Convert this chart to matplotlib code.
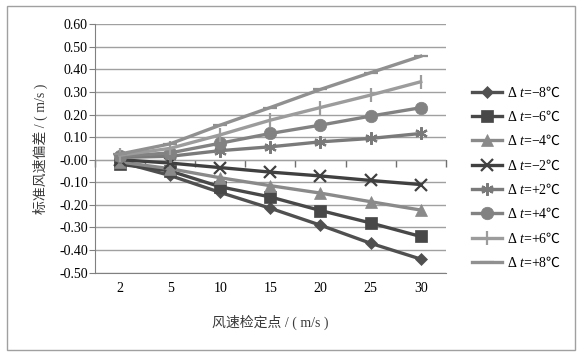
import matplotlib.pyplot as plt
import matplotlib.patches as patches
import numpy as np

plt.rcParams['font.family'] = ['Liberation Serif', 'Noto Sans CJK SC', 'DejaVu Sans']
plt.rcParams['mathtext.fontset'] = 'custom'
plt.rcParams['mathtext.it'] = 'Liberation Serif:italic'
plt.rcParams['mathtext.rm'] = 'Liberation Serif'
plt.rcParams['mathtext.sf'] = 'Noto Sans CJK SC'
plt.rcParams['axes.unicode_minus'] = True

# wind speed check points (m/s), plotted as categories
points = ['2', '5', '10', '15', '20', '25', '30']

dt_m8 = [-0.01, -0.07, -0.145, -0.215, -0.29, -0.37, -0.44]
dt_m6 = [-0.02, -0.05, -0.12, -0.165, -0.225, -0.28, -0.34]
dt_m4 = [-0.01, -0.04, -0.08, -0.115, -0.148, -0.186, -0.223]
dt_m2 = [0.0, -0.015, -0.035, -0.055, -0.072, -0.092, -0.11]
dt_p2 = [0.01, 0.015, 0.04, 0.057, 0.079, 0.094, 0.116]
dt_p4 = [0.015, 0.03, 0.073, 0.116, 0.153, 0.193, 0.23]
dt_p6 = [0.02, 0.05, 0.11, 0.175, 0.231, 0.286, 0.345]
dt_p8 = [0.025, 0.07, 0.153, 0.231, 0.311, 0.385, 0.458]

labels = [r'Δ $t$=−8$\mathsf{℃}$', r'Δ $t$=−6$\mathsf{℃}$', r'Δ $t$=−4$\mathsf{℃}$',
          r'Δ $t$=−2$\mathsf{℃}$', r'Δ $t$=+2$\mathsf{℃}$', r'Δ $t$=+4$\mathsf{℃}$',
          r'Δ $t$=+6$\mathsf{℃}$', r'Δ $t$=+8$\mathsf{℃}$']
series = [dt_m8, dt_m6, dt_m4, dt_m2, dt_p2, dt_p4, dt_p6, dt_p8]
colors = ['#505050', '#484848', '#8a8a8a', '#404040',
          '#7a7a7a', '#828282', '#9c9c9c', '#909090']
markers = ['D', 's', '^', 'x', (6, 2, 0), 'o', '|', '_']
msizes = [6, 8, 8, 8, 9, 9, 10, 10]

fig = plt.figure(figsize=(5.82, 3.55), dpi=100)
ax = fig.add_axes([0.163, 0.232, 0.603, 0.7])

# outer frame
fig.patches.append(patches.Rectangle((0.012, 0.015), 0.976, 0.968, transform=fig.transFigure,
                                     fill=False, edgecolor='#a0a0a0', linewidth=1))

x = np.arange(len(points))
for vals, lab, c, m, ms in zip(series, labels, colors, markers, msizes):
    ax.plot(x, vals, color=c, marker=m, markersize=ms, linewidth=2.4,
            markeredgewidth=1.6 if m in ('x', '|', '_', (6, 2, 0)) else 0.5,
            markeredgecolor=c, label=lab, zorder=3)

ax.set_xlim(-0.5, len(points) - 0.5)
ax.set_ylim(-0.5, 0.6)
ax.set_yticks(np.arange(-0.5, 0.61, 0.1))
ax.set_yticklabels(['%.2f' % v for v in np.arange(-0.5, 0.61, 0.1)], fontsize=10)
ax.set_xticks(x)
ax.set_xticklabels(points, fontsize=10)
ax.tick_params(axis='x', length=0, pad=7)
ax.tick_params(axis='y', length=4, color='#808080', pad=1)
ax.grid(axis='y', color='#a0a0a0', linewidth=1)
ax.set_axisbelow(True)
for s in ['top', 'right']:
    ax.spines[s].set_visible(False)
ax.spines['left'].set_color('#808080')
ax.spines['bottom'].set_color('#808080')

# zero axis with category ticks
zero_ax = ax.secondary_xaxis(0.5 / 1.1)
zero_ax.set_xticks(np.arange(len(points) + 1) - 0.5)
zero_ax.set_xticklabels([])
zero_ax.tick_params(length=5, color='#707070', width=1)
zero_ax.spines['bottom'].set_color('#707070')

ax.set_xlabel('风速检定点 / ( m/s )', fontsize=10, color='#3a3a3a', labelpad=14)
ax.set_ylabel('标准风速偏差 / ( m/s )', fontsize=10, color='#3a3a3a', labelpad=8)

ax.legend(loc='center left', bbox_to_anchor=(1.04, 0.383), frameon=False,
          fontsize=10, handlelength=2.1, labelspacing=0.72, handletextpad=0.4)

fig.savefig('out.png', dpi=100)
